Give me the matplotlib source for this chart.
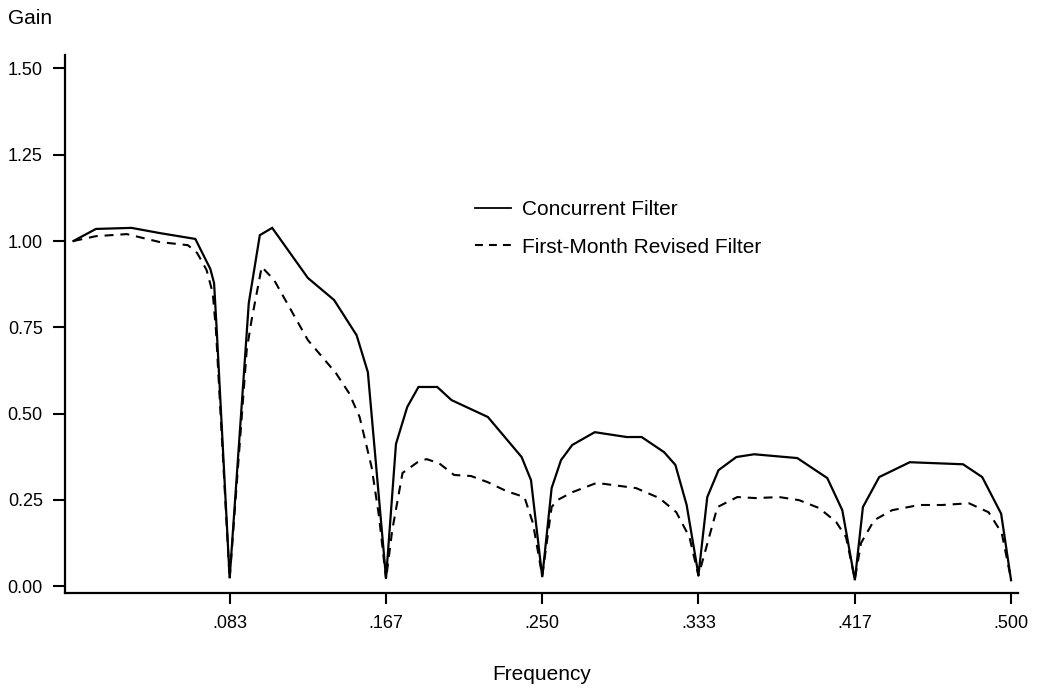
import matplotlib
matplotlib.use("Agg")
import matplotlib.pyplot as plt
from matplotlib.lines import Line2D

plt.rcParams['font.family'] = ['Liberation Sans', 'DejaVu Sans']

# Concurrent filter (solid)
freq_conc = [0.000, 0.012, 0.031, 0.046, 0.065, 0.073, 0.075, 0.0765, 0.0833,
             0.0914, 0.0935, 0.0994, 0.106, 0.125, 0.139, 0.151, 0.157, 0.1667,
             0.172, 0.178, 0.184, 0.194, 0.2016, 0.221, 0.239, 0.244, 0.2500,
             0.255, 0.260, 0.266, 0.278, 0.295, 0.303, 0.315, 0.321, 0.327, 0.3333,
             0.338, 0.344, 0.3535, 0.363, 0.386, 0.402, 0.410, 0.4167,
             0.421, 0.4297, 0.446, 0.4744, 0.4846, 0.4947, 0.500]
gain_conc = [1.000, 1.035, 1.038, 1.023, 1.006, 0.919, 0.878, 0.733, 0.023,
             0.655, 0.820, 1.017, 1.038, 0.893, 0.829, 0.727, 0.620, 0.023,
             0.412, 0.519, 0.577, 0.577, 0.539, 0.490, 0.374, 0.307, 0.026,
             0.284, 0.365, 0.409, 0.446, 0.432, 0.432, 0.388, 0.351, 0.235, 0.032,
             0.258, 0.336, 0.374, 0.382, 0.371, 0.313, 0.220, 0.017,
             0.229, 0.316, 0.359, 0.353, 0.316, 0.210, 0.017]

# First-month revised filter (dashed)
freq_rev = [0.000, 0.012, 0.0285, 0.046, 0.061, 0.066, 0.071, 0.0743, 0.076, 0.0833,
            0.0924, 0.095, 0.1004, 0.107, 0.125, 0.140, 0.147, 0.1526, 0.159, 0.163, 0.1667,
            0.170, 0.1755, 0.1835, 0.1883, 0.195, 0.203, 0.212, 0.221, 0.231, 0.2405, 0.245, 0.2500,
            0.255, 0.258, 0.266, 0.279, 0.2875, 0.300, 0.3125, 0.3215, 0.3285, 0.3333,
            0.3434, 0.354, 0.364, 0.3764, 0.387, 0.3977, 0.4067, 0.412, 0.4167,
            0.420, 0.427, 0.4366, 0.451, 0.4632, 0.4776, 0.488, 0.495, 0.500]
gain_rev = [1.000, 1.014, 1.020, 0.997, 0.988, 0.965, 0.916, 0.849, 0.742, 0.020,
            0.684, 0.771, 0.925, 0.887, 0.713, 0.617, 0.559, 0.490, 0.345, 0.200, 0.020,
            0.162, 0.328, 0.359, 0.368, 0.356, 0.322, 0.319, 0.301, 0.275, 0.258, 0.183, 0.030,
            0.229, 0.249, 0.272, 0.299, 0.293, 0.284, 0.255, 0.214, 0.142, 0.030,
            0.229, 0.258, 0.255, 0.258, 0.249, 0.226, 0.186, 0.142, 0.020,
            0.125, 0.191, 0.220, 0.235, 0.235, 0.240, 0.214, 0.154, 0.020]

xticks = [0.0833, 0.1667, 0.2500, 0.3333, 0.4167, 0.5000]
xtick_labels = ['.083', '.167', '.250', '.333', '.417', '.500']
yticks = [0.00, 0.25, 0.50, 0.75, 1.00, 1.25, 1.50]
ytick_labels = ['0.00', '0.25', '0.50', '0.75', '1.00', '1.25', '1.50']

W, H = 1042, 689
fig = plt.figure(figsize=(W / 100, H / 100), dpi=100)
ax_l, ax_r, ax_b, ax_t = 65, 1018, 593, 55
ax = fig.add_axes([ax_l / W, 1 - ax_b / H, (ax_r - ax_l) / W, (ax_b - ax_t) / H])

ax.plot(freq_conc, gain_conc, color='black', lw=1.6, solid_joinstyle='miter')
ax.plot(freq_rev, gain_rev, color='black', lw=1.5, linestyle=(0, (4.3, 3.3)))

ax.set_xlim(-0.0045, 0.5037)
ax.set_ylim(-0.020, 1.539)

for s in ['top', 'right']:
    ax.spines[s].set_visible(False)
for s in ['left', 'bottom']:
    ax.spines[s].set_linewidth(1.6)

ax.set_xticks(xticks)
ax.set_xticklabels(xtick_labels, fontsize=13)
ax.set_yticks(yticks)
ax.set_yticklabels(ytick_labels, fontsize=13)
ax.tick_params(axis='y', direction='out', length=9, width=1.5, pad=7)
ax.tick_params(axis='x', direction='out', length=8, width=1.5, pad=8)

fig.text(8 / W, 1 - 19 / H, 'Gain', fontsize=15, ha='left', va='center')
fig.text((ax_l + ax_r) / 2 / W, 1 - 675 / H, 'Frequency', fontsize=15, ha='center', va='center')

handles = [Line2D([], [], color='black', lw=1.3),
           Line2D([], [], color='black', lw=1.5, linestyle=(0, (3.8, 2.9)))]
ax.legend(handles, ['Concurrent Filter', 'First-Month Revised Filter'],
          loc='upper left', bbox_to_anchor=(475 / W, 1 - 200 / H),
          bbox_transform=fig.transFigure, frameon=False, fontsize=15,
          handlelength=1.75, handletextpad=0.5, labelspacing=0.9, borderpad=0,
          borderaxespad=0)

fig.savefig('out.png', dpi=100)
